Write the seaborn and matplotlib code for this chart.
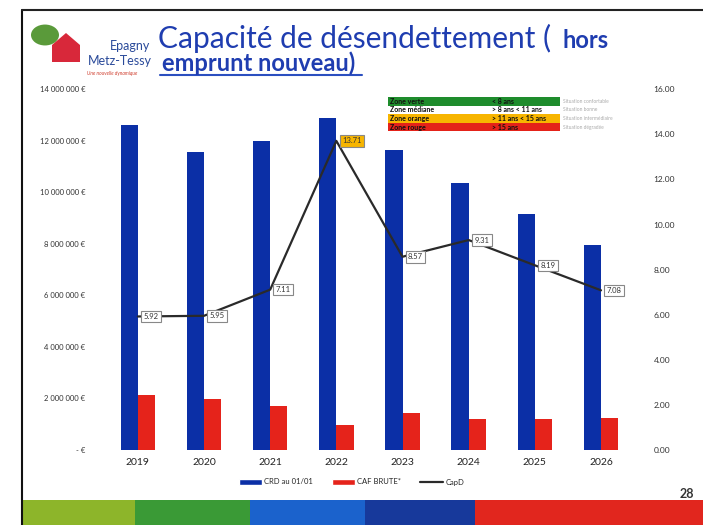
import numpy as np
import pandas as pd
import matplotlib
matplotlib.use("Agg")
import matplotlib.pyplot as plt
import seaborn as sns
from matplotlib.patches import Rectangle, Circle, Polygon
from matplotlib.lines import Line2D

# ---- data ----
annees = ["2019", "2020", "2021", "2022", "2023", "2024", "2025", "2026"]
crd = [12600000, 11560000, 11980000, 12870000, 11630000, 10350000, 9150000, 7950000]
caf_brute = [2130000, 1980000, 1710000, 970000, 1430000, 1200000, 1200000, 1240000]
capd = [5.92, 5.95, 7.11, 13.71, 8.57, 9.31, 8.19, 7.08]
left_ticks = [0, 2000000, 4000000, 6000000, 8000000, 10000000, 12000000, 14000000]
left_labels = ["- €", "2 000 000 €", "4 000 000 €", "6 000 000 €", "8 000 000 €",
               "10 000 000 €", "12 000 000 €", "14 000 000 €"]
right_ticks = [0, 2, 4, 6, 8, 10, 12, 14, 16]
series_names = ["CRD au 01/01", "CAF BRUTE*"]
line_name = "CapD"
zones = ["Zone verte", "Zone médiane", "Zone orange", "Zone rouge"]
zone_crit = ["< 8 ans", "> 8 ans < 11 ans", "> 11 ans < 15 ans", "> 15 ans"]
zone_desc = ["Situation confortable", "Situation bonne", "Situation intermédiaire", "Situation dégradée"]

BLUE = "#0b2fa6"
RED = "#e5231b"
zone_colors = ["#1e8c2c", "#ffffff", "#f7b500", "#e42219"]

sns.set_theme(style="white")
plt.rcParams["font.family"] = ["Lato", "DejaVu Sans"]

df = pd.DataFrame({
    "annee": annees * 2,
    "valeur": crd + caf_brute,
    "serie": [series_names[0]] * len(annees) + [series_names[1]] * len(annees),
})

fig = plt.figure(figsize=(7.03, 5.25), dpi=100)
ax = fig.add_axes([0.149, 0.143, 0.753, 0.687])

sns.barplot(data=df, x="annee", y="valeur", hue="serie", palette=[BLUE, RED],
            width=0.52, saturation=1, ax=ax, legend=False, edgecolor="none")
ax.set_ylim(0, 14000000)
ax.set_xlim(-0.5, len(annees) - 0.5)
ax.set_yticks(left_ticks)
ax.set_yticklabels(left_labels, fontsize=5.5, color="#333333")
ax.set_xlabel("")
ax.set_ylabel("")
ax.tick_params(axis="x", labelsize=7.5, colors="#222222", length=0, pad=6)
ax.tick_params(axis="y", length=0, pad=14)
for s in ax.spines.values():
    s.set_visible(False)

ax2 = ax.twinx()
sns.lineplot(x=np.arange(len(annees)), y=capd, ax=ax2, color="#2a2a2a", lw=1.6)
ax2.set_ylim(0, 16)
ax2.set_yticks(right_ticks)
ax2.set_yticklabels([f"{v:.2f}" for v in right_ticks], fontsize=6, color="#333333")
ax2.tick_params(axis="y", length=0, pad=14)
for s in ax2.spines.values():
    s.set_visible(False)

for i, v in enumerate(capd):
    fc = "#f7b500" if v > 11 else "white"
    ax2.annotate(f"{v:.2f}", (i, v), xytext=(4, 0), textcoords="offset points",
                 ha="left", va="center", fontsize=5.5, color="#333333",
                 bbox=dict(boxstyle="square,pad=0.3", fc=fc, ec="#888888", lw=0.8))

# zone table
tx0, ty0 = 388 / 703, 1 - 97 / 525
rh = 8.6 / 525
w1, w2 = 102 / 703, 70 / 703
for k in range(4):
    y = ty0 - (k + 1) * rh
    fig.patches.append(Rectangle((tx0, y), w1 + w2, rh, transform=fig.transFigure,
                                 fc=zone_colors[k], ec="none", zorder=5))
    tc = "#111111"
    fig.text(tx0 + 0.003, y + rh / 2, zones[k], fontsize=5, fontweight="bold",
             color=tc, va="center", ha="left", zorder=6)
    fig.text(tx0 + w1 + 0.003, y + rh / 2, zone_crit[k], fontsize=5, fontweight="bold",
             color=tc, va="center", ha="left", zorder=6)
    fig.text(tx0 + w1 + w2 + 0.004, y + rh / 2, zone_desc[k], fontsize=3.5,
             color="#aaaaaa", va="center", ha="left", zorder=6)

# bottom legend
handles = [Rectangle((0, 0), 1, 1, fc=BLUE), Rectangle((0, 0), 1, 1, fc=RED),
           Line2D([0], [0], color="#2a2a2a", lw=1.6)]
fig.legend(handles, series_names + [line_name], loc="center", ncol=3,
           bbox_to_anchor=(0.5, 1 - 482 / 525), frameon=False, fontsize=5.5,
           handlelength=3, handleheight=0.8, columnspacing=2.5, handletextpad=0.3)

# slide decorations
fig.add_artist(Line2D([22 / 703, 22 / 703], [0, 1 - 10 / 525], transform=fig.transFigure,
                      color="#111111", lw=1.5))
fig.add_artist(Line2D([22 / 703, 1], [1 - 10 / 525, 1 - 10 / 525], transform=fig.transFigure,
                      color="#222222", lw=1.5))
band = [(22, 135, "#8db52a"), (135, 250, "#3a9a36"), (250, 365, "#1b62cc"),
        (365, 475, "#17399b"), (475, 703, "#e1261e")]
for a, b, c in band:
    fig.patches.append(Rectangle((a / 703, 0), (b - a) / 703, 25 / 525,
                                 transform=fig.transFigure, fc=c, ec="none"))
fig.text(687 / 703, 1 - 494 / 525, "28", fontsize=9, fontweight="bold", color="#333333",
         ha="center", va="center")

# title
fig.text(158 / 703, 1 - 38 / 525, "Capacité de désendettement (", fontsize=21.5,
         color="#1f3db0", ha="left", va="center")
fig.text(562 / 703, 1 - 40 / 525, "hors", fontsize=17, fontweight="bold",
         color="#1f3db0", ha="left", va="center")
fig.text(162 / 703, 1 - 63 / 525, "emprunt nouveau)", fontsize=17, fontweight="bold",
         color="#1f3db0", ha="left", va="center")
fig.add_artist(Line2D([160 / 703, 362 / 703], [1 - 75 / 525, 1 - 75 / 525],
                      transform=fig.transFigure, color="#2b4fc0", lw=1.5))

# logo
fig.patches.append(Circle((45 / 703, 1 - 35 / 525), 14 / 703, transform=fig.transFigure,
                          fc="#5a9a3a", ec="none"))
fig.patches.append(Polygon([(52 / 703, 1 - 62 / 525), (52 / 703, 1 - 45 / 525),
                            (66 / 703, 1 - 33 / 525), (80 / 703, 1 - 45 / 525),
                            (80 / 703, 1 - 62 / 525)], closed=True,
                           transform=fig.transFigure, fc="#d8283a", ec="none"))
fig.text(150 / 703, 1 - 46 / 525, "Epagny", fontsize=9, color="#2a4a9a",
         ha="right", va="center")
fig.text(152 / 703, 1 - 61 / 525, "Metz-Tessy", fontsize=9, color="#2a4a9a",
         ha="right", va="center")
fig.text(112 / 703, 1 - 74 / 525, "Une nouvelle dynamique", fontsize=3.5, color="#d04030",
         ha="center", va="center", style="italic")

fig.savefig("out.png", dpi=100)
